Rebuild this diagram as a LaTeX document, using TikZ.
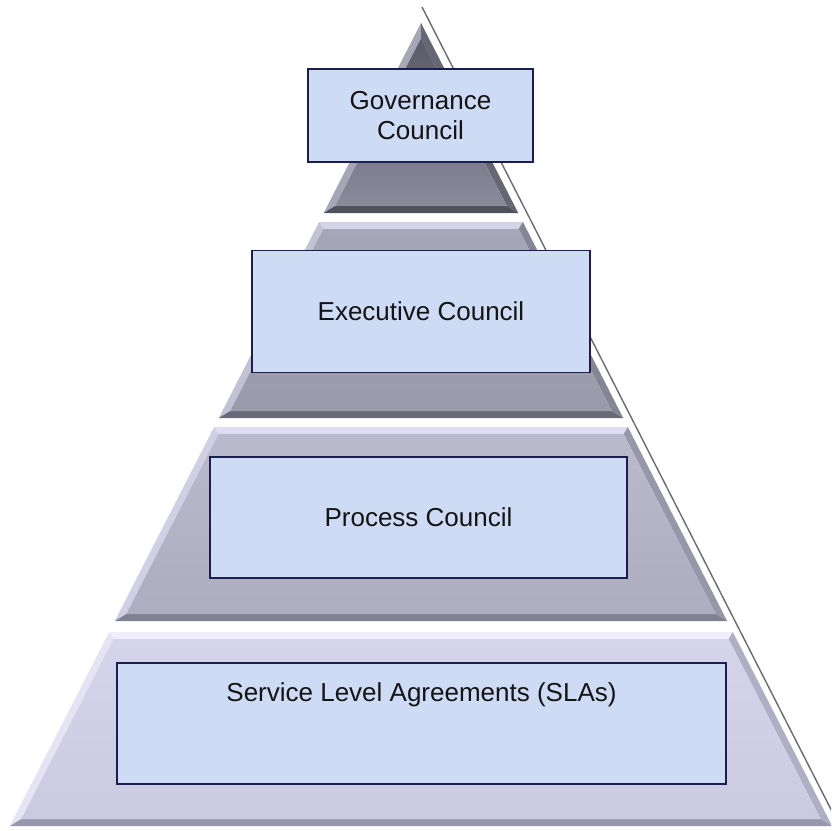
\documentclass[tikz,border=0pt]{standalone}
\usepackage{fontspec}
\setmainfont{Liberation Sans}

% pyramid geometry: apex, half-width per unit of height, bevel width
\def\pyrAx{421}
\def\pyrAy{23}
\def\pyrSlope{0.512}
\def\pyrBev{7}

\definecolor{boxfill}{HTML}{CDDBF5}
\definecolor{boxline}{HTML}{1B1F50}
\definecolor{edgeline}{HTML}{6A6A76}

% layer colours: shade top, shade bottom, top/left/right/bottom bevels
\definecolor{La1}{HTML}{5A5A68}\definecolor{La2}{HTML}{8A8A9A}
\definecolor{La3}{HTML}{7A7A88}\definecolor{La4}{HTML}{A6A6B6}
\definecolor{La5}{HTML}{666674}\definecolor{La6}{HTML}{50505A}
\definecolor{Lb1}{HTML}{A6A6B7}\definecolor{Lb2}{HTML}{9B9AAB}
\definecolor{Lb3}{HTML}{D4D4E8}\definecolor{Lb4}{HTML}{C2C2D4}
\definecolor{Lb5}{HTML}{858594}\definecolor{Lb6}{HTML}{696978}
\definecolor{Lc1}{HTML}{BBBACC}\definecolor{Lc2}{HTML}{AEADC0}
\definecolor{Lc3}{HTML}{DEDDF1}\definecolor{Lc4}{HTML}{D0CFE3}
\definecolor{Lc5}{HTML}{9897AA}\definecolor{Lc6}{HTML}{808091}
\definecolor{Ld1}{HTML}{D6D4EA}\definecolor{Ld2}{HTML}{CCCAE1}
\definecolor{Ld3}{HTML}{EFEEFA}\definecolor{Ld4}{HTML}{E5E3F4}
\definecolor{Ld5}{HTML}{B0AEC4}\definecolor{Ld6}{HTML}{9997AD}

% \pyrLayer{top y}{bottom y}{colour prefix}
\newcommand\pyrLayer[3]{%
  \pgfmathsetmacro\lwt{\pyrSlope*(#1-\pyrAy)}%
  \pgfmathsetmacro\lwb{\pyrSlope*(#2-\pyrAy)}%
  \pgfmathsetmacro\lti{max(#1+\pyrBev,\pyrAy+\pyrBev*1.124/\pyrSlope)}%
  \pgfmathsetmacro\lbi{#2-\pyrBev}%
  \pgfmathsetmacro\lwti{max(\pyrSlope*(\lti-\pyrAy)-\pyrBev*1.124,0)}%
  \pgfmathsetmacro\lwbi{\pyrSlope*(\lbi-\pyrAy)-\pyrBev*1.124}%
  \coordinate (oTL) at ({\pyrAx-\lwt},#1);
  \coordinate (oTR) at ({\pyrAx+\lwt},#1);
  \coordinate (oBR) at ({\pyrAx+\lwb},#2);
  \coordinate (oBL) at ({\pyrAx-\lwb},#2);
  \coordinate (iTL) at ({\pyrAx-\lwti},\lti);
  \coordinate (iTR) at ({\pyrAx+\lwti},\lti);
  \coordinate (iBR) at ({\pyrAx+\lwbi},\lbi);
  \coordinate (iBL) at ({\pyrAx-\lwbi},\lbi);
  \fill[#33] (oTL) -- (oTR) -- (iTR) -- (iTL) -- cycle;
  \fill[#34] (oBL) -- (oTL) -- (iTL) -- (iBL) -- cycle;
  \fill[#35] (oTR) -- (oBR) -- (iBR) -- (iTR) -- cycle;
  \fill[#36] (oBR) -- (oBL) -- (iBL) -- (iBR) -- cycle;
  \shade[top color=#31, bottom color=#32] (iTL) -- (iTR) -- (iBR) -- (iBL) -- cycle;
}

\begin{document}
\begin{tikzpicture}[x=1pt,y=-1pt,
  councilbox/.style={draw=boxline, line width=1.8pt, fill=boxfill,
    text=black!92, align=center, inner sep=0pt,
    font=\fontsize{26}{30}\selectfont}]
\useasboundingbox (0,0) rectangle (831,831);
\clip (0,0) rectangle (831,831);
\fill[white] (0,0) rectangle (831,831);

% thin edge line running down the right flank
\coordinate (edgeTop) at (422,7);
\coordinate (edgeEnd) at (842,831);
\draw[edgeline, line width=1.4pt] (edgeTop) -- (edgeEnd);

% four layers, apex to base
\pyrLayer{23}{213}{La}
\pyrLayer{222}{418}{Lb}
\pyrLayer{427}{621}{Lc}
\pyrLayer{632}{826}{Ld}

% council boxes
\node[councilbox, minimum width=225pt, minimum height=93pt] (gov) at (420.5,115.5) {Governance\\Council};
\node[councilbox, minimum width=338pt, minimum height=122pt] (exec) at (421,311.5) {Executive Council};
\node[councilbox, minimum width=417pt, minimum height=121pt] (proc) at (418.5,517.5) {Process Council};
\node[councilbox, minimum width=609pt, minimum height=121pt] (sla) at (421.5,723.5)
  {\raisebox{22pt}[0pt][0pt]{Service Level Agreements (SLAs)}};
\end{tikzpicture}
\end{document}
